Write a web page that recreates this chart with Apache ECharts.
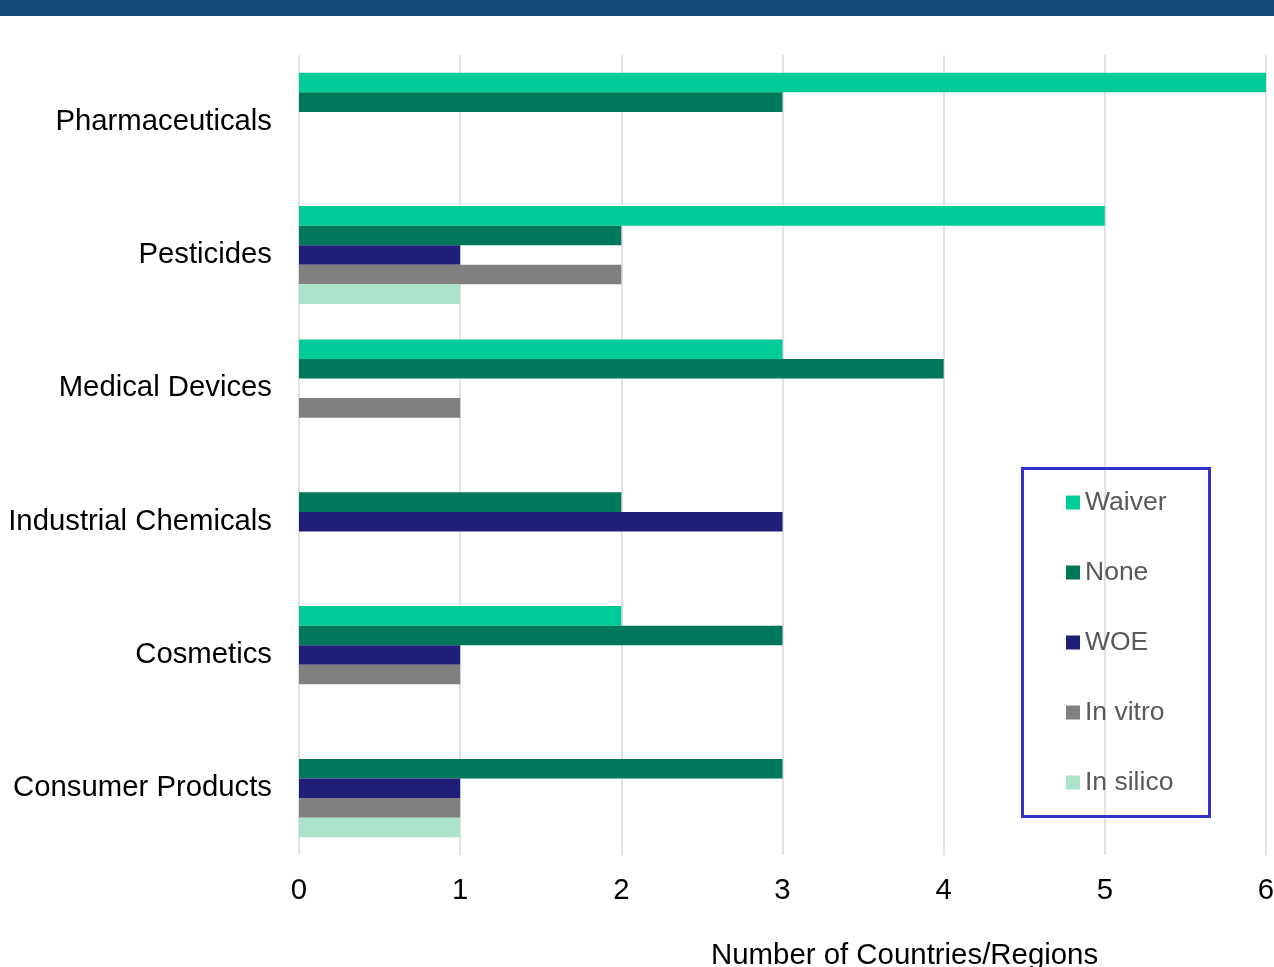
<!DOCTYPE html>
<html><head><meta charset="utf-8">
<script src="https://cdn.jsdelivr.net/npm/echarts@6/dist/echarts.min.js"></script>
<style>html,body{margin:0;padding:0;background:#fff;overflow:hidden}#c{width:1274px;height:967px}</style>
</head><body><div id="c"></div>
<script>
const categories = ['Pharmaceuticals','Pesticides','Medical Devices','Industrial Chemicals','Cosmetics','Consumer Products'];
const seriesNames = ['Waiver','None','WOE','In vitro','In silico'];
const waiver   = [6, 5, 3, 0, 2, 0];
const none     = [3, 2, 4, 2, 3, 3];
const woe      = [0, 1, 0, 3, 1, 1];
const inVitro  = [0, 2, 1, 0, 1, 1];
const inSilico = [0, 1, 0, 0, 0, 1];
const xTicks = [0,1,2,3,4,5,6];
const axisTitle = 'Number of Countries/Regions';

const colors = ['#00cc9a','#00785c','#1f1f7a','#808080','#abe3ca'];
const values = [waiver, none, woe, inVitro, inSilico];
const FONT = "'Liberation Sans', Arial, sans-serif";

const chart = echarts.init(document.getElementById('c'), null, {renderer:'canvas', width:1274, height:967});
chart.setOption({
  animation: false,
  color: colors,
  textStyle: {fontFamily: FONT},
  grid: {left: 299, right: 8, top: 55, bottom: 112, containLabel: false, outerBoundsMode: 'none'},
  title: {
    text: axisTitle, left: 711, top: 941, padding: 0,
    textStyle: {fontFamily: FONT, fontSize: 29.4, fontWeight: 'normal', color: '#000'}
  },
  xAxis: {
    type: 'value', min: xTicks[0], max: xTicks[xTicks.length-1], interval: 1,
    axisLine: {show: false}, axisTick: {show: false},
    axisLabel: {fontSize: 29.3, color: '#000', margin: 21, fontFamily: FONT},
    splitLine: {show: true, lineStyle: {color: '#d9d9d9', width: 1.5}}
  },
  yAxis: {
    type: 'category', data: categories, inverse: true,
    axisLine: {show: false}, axisTick: {show: false},
    axisLabel: {fontSize: 29.3, color: '#000', margin: 27, fontFamily: FONT}
  },
  legend: {
    orient: 'vertical', left: 1066, top: 489, padding: 0,
    itemWidth: 14, itemHeight: 14, itemGap: 43,
    icon: 'rect',
    textStyle: {fontSize: 26.5, color: '#595959', fontFamily: FONT},
    data: seriesNames
  },
  graphic: [
    {type: 'rect', left: 0, top: 0, shape: {width: 1274, height: 16}, style: {fill: '#174a7c'}},
    {type: 'rect', left: 1020, top: 466, shape: {x:0, y:0, width: 187, height: 348}, style: {fill: 'none', stroke: '#3333cc', lineWidth: 3}, z: 100}
  ],
  series: seriesNames.map((n, i) => ({
    name: n, type: 'bar', data: values[i],
    barGap: 0, barCategoryGap: '26.6%',
    itemStyle: {color: colors[i]}
  }))
});
</script></body></html>
